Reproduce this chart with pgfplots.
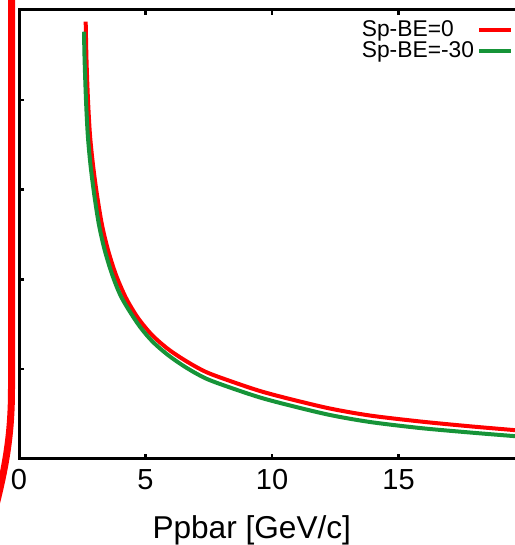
\documentclass[border=0pt]{standalone}
\usepackage{fontspec}
\setmainfont{Liberation Sans}
\usepackage{pgfplots}
\pgfplotsset{compat=1.18}
\definecolor{curvered}{RGB}{255,0,0}
\definecolor{curvegreen}{RGB}{22,148,56}

\begin{document}
\begin{tikzpicture}
  \useasboundingbox (0pt,0pt) rectangle (257pt,272.5pt);
  % frame of the slide behind the plot
  \draw[red, line width=3.5pt]
    (5.75pt,280pt) -- (5.75pt,78pt)
    .. controls (5.75pt,56pt) and (3pt,40pt) .. (-2pt,20pt);
  \begin{axis}[
    at={(9.5pt,43pt)}, anchor=south west,
    scale only axis, width=253pt, height=224.5pt,
    xmin=0, xmax=20, ymin=0, ymax=5,
    xtick={0,5,10,15}, ytick={0,1,2,3,4,5},
    yticklabels={},
    tick align=inside, major tick length=2.5pt,
    axis line style={line width=1.5pt},
    every tick/.style={black, line width=1.2pt},
    /pgf/number format/assume math mode=true,
    xticklabel style={font=\fontsize{14.5}{16}\selectfont, yshift=-1.5pt},
    xlabel={Ppbar [GeV/c]},
    xlabel style={font=\fontsize{15.8}{18}\selectfont,
      at={(axis description cs:0.46,-0.158)}, anchor=center},
    legend plot pos=right,
    legend cell align=left,
    legend image code/.code={\draw[#1] (0pt,0pt) -- (16pt,0pt);},
    legend style={draw=none, fill=none,
      at={(axis description cs:0.659,0.994)}, anchor=north west,
      font=\fontsize{11.4}{12}\selectfont, row sep=-1.5pt,
      nodes={inner sep=1.5pt}},
  ]
    \addplot[curvered, line width=2pt, smooth] coordinates {
      (2.636,4.870) (2.668,4.443) (2.727,3.998) (2.806,3.608)
      (2.925,3.274) (3.083,2.940) (3.281,2.606) (3.518,2.327)
      (3.834,2.049) (4.229,1.793) (4.704,1.570) (5.257,1.381)
      (5.889,1.225) (6.601,1.091) (7.391,0.969) (8.340,0.869)
      (9.526,0.757) (10.711,0.668) (12.292,0.562) (13.874,0.484)
      (15.850,0.418) (17.826,0.364) (19.526,0.323) (20.0,0.313)
    };
    \addlegendentry{Sp-BE=0}
    \addplot[curvegreen, line width=2pt, smooth] coordinates {
      (2.569,4.758) (2.593,4.443) (2.648,3.998) (2.719,3.608)
      (2.826,3.274) (2.976,2.940) (3.162,2.606) (3.387,2.327)
      (3.688,2.049) (4.063,1.793) (4.704,1.503) (5.257,1.314)
      (5.889,1.158) (6.601,1.019) (7.391,0.896) (8.340,0.796)
      (9.526,0.685) (10.711,0.596) (12.292,0.490) (13.874,0.412)
      (15.850,0.345) (17.826,0.295) (19.526,0.256) (20.0,0.245)
    };
    \addlegendentry{Sp-BE=-30}
  \end{axis}
\end{tikzpicture}
\end{document}
